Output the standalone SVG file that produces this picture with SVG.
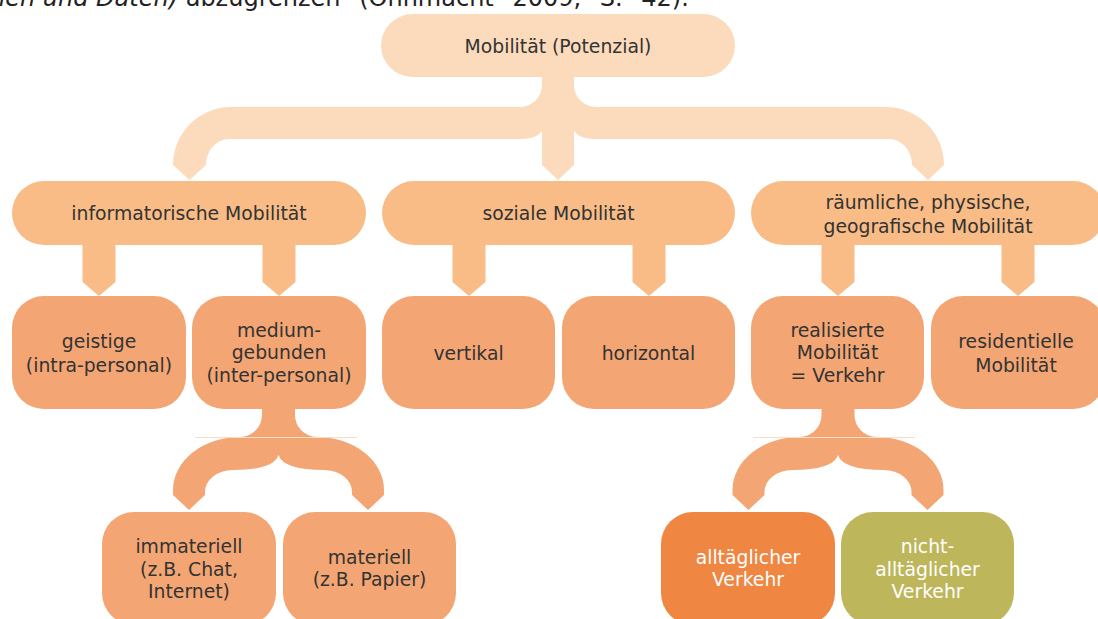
<svg xmlns="http://www.w3.org/2000/svg" width="1098" height="619" viewBox="0 0 1098 619">
<style>
text{font-family:"DejaVu Sans","Verdana",sans-serif;font-size:18.8px;fill:#333333;text-anchor:middle}
.top{fill:#FCDBBC}
.l2{fill:#F9BC86}
.l3{fill:#F3A673}
.orange{fill:#EF8642}
.olive{fill:#BEB65B}
text.w{fill:#FFFFFF}
text.cap{text-anchor:start;font-size:24px;fill:#222222}
</style>
<rect width="1098" height="619" fill="#FFFFFF"/>
<text class="cap" x="-10" y="5.5"><tspan font-style="italic">hen und Daten)</tspan> abzugrenzen<tspan word-spacing="11"> (Ohnmacht 2009, S. 42).</tspan></text>
<g id="connectors">
<path class="top" d="M542,75 L542,85 A22 22 0 0 1 520,107 L231,107 A58 58 0 0 0 173,165 L189.5,180 L206,165 A23 26 0 0 1 229,139 L522,139 Q536,139 542,131 L542,165 L558,180 L574,165 L574,131 Q580,139 594,139 L889,139 A23 26 0 0 1 912,165 L928,180 L944,165 A58 58 0 0 0 886,107 L596,107 A22 22 0 0 1 574,85 L574,75 Z"/>
<path class="l2" d="M82.5,240 L82.5,282 L99,296 L115.5,282 L115.5,240 Z"/>
<path class="l2" d="M262.5,240 L262.5,282 L279,296 L295.5,282 L295.5,240 Z"/>
<path class="l2" d="M452.5,240 L452.5,282 L469,296 L485.5,282 L485.5,240 Z"/>
<path class="l2" d="M632.5,240 L632.5,282 L649,296 L665.5,282 L665.5,240 Z"/>
<path class="l2" d="M821.5,240 L821.5,282 L838,296 L854.5,282 L854.5,240 Z"/>
<path class="l2" d="M1001.5,240 L1001.5,282 L1018,296 L1034.5,282 L1034.5,240 Z"/>
<path class="l3" transform="translate(278.5,0)" d="M-16.5,405 L-16.5,415 A22 22 0 0 1 -38.5,437 A67 53 0 0 0 -105.5,490 L-105.5,495 L-89.5,510 L-73.5,495 L-73.5,492 A27.5 22 0 0 1 -46,470 Q-5,470 0,455 Q5,470 46,470 A27.5 22 0 0 1 73.5,492 L73.5,495 L89.5,510 L105.5,495 L105.5,490 A67 53 0 0 0 38.5,437 A22 22 0 0 1 16.5,415 L16.5,405 Z"/>
<path class="l3" transform="translate(838,0)" d="M-16.5,405 L-16.5,415 A22 22 0 0 1 -38.5,437 A67 53 0 0 0 -105.5,490 L-105.5,495 L-89.5,510 L-73.5,495 L-73.5,492 A27.5 22 0 0 1 -46,470 Q-5,470 0,455 Q5,470 46,470 A27.5 22 0 0 1 73.5,492 L73.5,495 L89.5,510 L105.5,495 L105.5,490 A67 53 0 0 0 38.5,437 A22 22 0 0 1 16.5,415 L16.5,405 Z"/>
<line x1="195" y1="437.5" x2="357" y2="437.5" stroke="#FBDCC4" stroke-width="1"/>
<line x1="753" y1="437.5" x2="915" y2="437.5" stroke="#FBDCC4" stroke-width="1"/>
</g>
<g id="n-mobilitaet">
<rect class="top" x="381" y="14" width="354" height="63" rx="31.5"/>
<text x="558" y="53">Mobilität (Potenzial)</text>
</g>
<g id="n-informatorisch">
<rect class="l2" x="12" y="181" width="354" height="64" rx="32"/>
<text x="189" y="220">informatorische Mobilität</text>
</g>
<g id="n-sozial">
<rect class="l2" x="382" y="181" width="353" height="64" rx="32"/>
<text x="558.5" y="220">soziale Mobilität</text>
</g>
<g id="n-raeumlich">
<rect class="l2" x="751" y="181" width="354" height="64" rx="32"/>
<text x="928" y="209">räumliche, physische,</text>
<text x="928" y="232.5">geografische Mobilität</text>
</g>
<g id="n-geistige">
<rect class="l3" x="12" y="296" width="174" height="113" rx="32"/>
<text x="99" y="348">geistige</text>
<text x="99" y="371.5">(intra-personal)</text>
</g>
<g id="n-medium">
<rect class="l3" x="192" y="296" width="174" height="113" rx="32"/>
<text x="279" y="336.5">medium-</text>
<text x="279" y="359">gebunden</text>
<text x="279" y="381.5">(inter-personal)</text>
</g>
<g id="n-vertikal">
<rect class="l3" x="382" y="296" width="173" height="113" rx="32"/>
<text x="468.5" y="359.5">vertikal</text>
</g>
<g id="n-horizontal">
<rect class="l3" x="562" y="296" width="173" height="113" rx="32"/>
<text x="648.5" y="359.5">horizontal</text>
</g>
<g id="n-realisiert">
<rect class="l3" x="751" y="296" width="173" height="113" rx="32"/>
<text x="837.5" y="336.5">realisierte</text>
<text x="837.5" y="359">Mobilität</text>
<text x="837.5" y="381.5">= Verkehr</text>
</g>
<g id="n-residentiell">
<rect class="l3" x="931" y="296" width="174" height="113" rx="32"/>
<text x="1016" y="348">residentielle</text>
<text x="1016" y="371.5">Mobilität</text>
</g>
<g id="n-immateriell">
<rect class="l3" x="102" y="512" width="174" height="113" rx="32"/>
<text x="189" y="553">immateriell</text>
<text x="189" y="575.5">(z.B. Chat,</text>
<text x="189" y="598">Internet)</text>
</g>
<g id="n-materiell">
<rect class="l3" x="283" y="512" width="173" height="113" rx="32"/>
<text x="369.5" y="563.5">materiell</text>
<text x="369.5" y="586">(z.B. Papier)</text>
</g>
<g id="n-alltaeglich">
<rect class="orange" x="661" y="512" width="174" height="113" rx="32"/>
<text class="w" x="748" y="563.5">alltäglicher</text>
<text class="w" x="748" y="586">Verkehr</text>
</g>
<g id="n-nichtalltaeglich">
<rect class="olive" x="841" y="512" width="173" height="113" rx="32"/>
<text class="w" x="927.5" y="553">nicht-</text>
<text class="w" x="927.5" y="575.5">alltäglicher</text>
<text class="w" x="927.5" y="598">Verkehr</text>
</g>
</svg>
